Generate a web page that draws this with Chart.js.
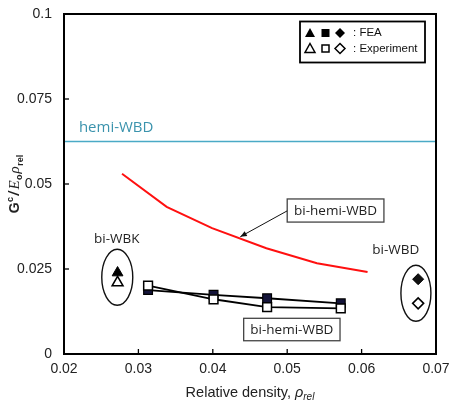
<!DOCTYPE html>
<html><head><meta charset="utf-8">
<script src="https://cdn.jsdelivr.net/npm/chart.js@4.4.0/dist/chart.umd.min.js"></script>
<style>html,body{margin:0;padding:0;background:#fff;} #wrap{width:451px;height:404px;}</style>
</head><body><div id="wrap"><canvas id="c" width="451" height="404"></canvas></div>
<script>
// ---- data ----
const xTickValues = [0.02, 0.03, 0.04, 0.05, 0.06, 0.07];
const xTickLabels = ["0.02", "0.03", "0.04", "0.05", "0.06", "0.07"];
const yTickValues = [0, 0.025, 0.05, 0.075, 0.1];
const yTickLabels = ["0", "0.025", "0.05", "0.075", "0.1"];

const hemiX = [0.02, 0.07];
const hemiY = [0.0625, 0.0625];

const redX = [0.0278, 0.0338, 0.0399, 0.0472, 0.0540, 0.0608];
const redY = [0.0530, 0.0433, 0.0370, 0.0311, 0.0267, 0.0241];

const biHemiX = [0.0313, 0.0401, 0.0473, 0.0572];
const biHemiFEA = [0.0188, 0.0174, 0.0164, 0.0149];
const biHemiExp = [0.0201, 0.0161, 0.0138, 0.0134];

const biWBKX = [0.0272];
const biWBKFEA = [0.0239];
const biWBKExp = [0.0210];

const biWBDX = [0.0676];
const biWBDFEA = [0.0220];
const biWBDExp = [0.0149];

const pts = (xs, ys) => xs.map((x, i) => ({x: x, y: ys[i]}));

const TEAL = '#4aaac6';
const TEAL_TEXT = '#3b93ad';
const font = 'Liberation Sans, Arial, sans-serif';
const cfont = '"Open Sans", sans-serif';

function txt(ctx, s, x, y, f, color, align, base) {
  ctx.font = f; ctx.fillStyle = color; ctx.textAlign = align || 'left'; ctx.textBaseline = base || 'middle';
  ctx.fillText(s, x, y);
}
function zeroPad(s) { s.paddingTop = 0; s.paddingBottom = 0; s.paddingLeft = 0; s.paddingRight = 0; }

const annot = {
  id: 'annot',
  afterDatasetsDraw(chart) {
    const ctx = chart.ctx, xs = chart.scales.x, ys = chart.scales.y;
    const X = v => xs.getPixelForValue(v), Y = v => ys.getPixelForValue(v);
    ctx.save();
    txt(ctx, 'hemi-WBD', X(0.0220), Y(0.0665), '15px ' + cfont, TEAL_TEXT, 'left');
    txt(ctx, 'bi-WBK', X(0.0271), Y(0.0338), '13.5px ' + cfont, '#222', 'center');
    txt(ctx, 'bi-WBD', X(0.0646), Y(0.0306), '13.5px ' + cfont, '#222', 'center');
    ctx.strokeStyle = '#111'; ctx.lineWidth = 1.4;
    ctx.beginPath(); ctx.ellipse(X(0.02716), Y(0.02256), 15.5, 28, 0, 0, Math.PI * 2); ctx.stroke();
    ctx.beginPath(); ctx.ellipse(X(0.0673), Y(0.01785), 15, 28, 0, 0, Math.PI * 2); ctx.stroke();
    function box(x0, x1, y0, y1, s) {
      const px0 = X(x0), px1 = X(x1), py0 = Y(y0), py1 = Y(y1);
      ctx.fillStyle = '#fff'; ctx.fillRect(px0, py0, px1 - px0, py1 - py0);
      ctx.strokeStyle = '#444'; ctx.lineWidth = 1.3;
      ctx.strokeRect(px0, py0, px1 - px0, py1 - py0);
      txt(ctx, s, (px0 + px1) / 2, (py0 + py1) / 2 + 0.5, '13.5px ' + cfont, '#222', 'center');
    }
    box(0.0500, 0.0630, 0.0456, 0.0388, 'bi-hemi-WBD');
    box(0.04415, 0.0571, 0.0105, 0.0039, 'bi-hemi-WBD');
    const ax0 = X(0.0500), ay0 = Y(0.0421), ax1 = X(0.0437), ay1 = Y(0.0345);
    ctx.strokeStyle = '#111'; ctx.lineWidth = 1;
    ctx.beginPath(); ctx.moveTo(ax0, ay0); ctx.lineTo(ax1, ay1); ctx.stroke();
    const ang = Math.atan2(ay1 - ay0, ax1 - ax0), L = 7;
    ctx.fillStyle = '#111';
    ctx.beginPath(); ctx.moveTo(ax1, ay1);
    ctx.lineTo(ax1 - L * Math.cos(ang - 0.4), ay1 - L * Math.sin(ang - 0.4));
    ctx.lineTo(ax1 - L * Math.cos(ang + 0.4), ay1 - L * Math.sin(ang + 0.4));
    ctx.closePath(); ctx.fill();
    ctx.restore();
  },
  afterDraw(chart) {
    const ctx = chart.ctx, xs = chart.scales.x, ys = chart.scales.y, a = chart.chartArea;
    ctx.save();
    ctx.strokeStyle = '#000'; ctx.lineWidth = 2;
    ctx.strokeRect(a.left, a.top, a.right - a.left, a.bottom - a.top);
    ctx.lineWidth = 1.3;
    xTickValues.forEach(v => { const p = xs.getPixelForValue(v); ctx.beginPath(); ctx.moveTo(p, a.bottom); ctx.lineTo(p, a.bottom - 5); ctx.stroke(); });
    yTickValues.forEach(v => { const p = ys.getPixelForValue(v); ctx.beginPath(); ctx.moveTo(a.left, p); ctx.lineTo(a.left + 5, p); ctx.stroke(); });
    // legend
    const bx0 = a.right - 136, by0 = a.top + 7.5, bw = 125, bh = 41;
    ctx.fillStyle = '#fff'; ctx.fillRect(bx0, by0, bw, bh);
    ctx.strokeStyle = '#000'; ctx.lineWidth = 1.8; ctx.strokeRect(bx0, by0, bw, bh);
    const r1 = by0 + 11.5, r2 = by0 + 27;
    const mx = [bx0 + 10, bx0 + 25.5, bx0 + 40];
    function tri(x, y, fill) {
      ctx.beginPath(); ctx.moveTo(x, y - 5); ctx.lineTo(x + 5, y + 4); ctx.lineTo(x - 5, y + 4); ctx.closePath();
      if (fill) { ctx.fillStyle = '#000'; ctx.fill(); } else { ctx.lineWidth = 1.5; ctx.strokeStyle = '#000'; ctx.stroke(); }
    }
    function sq(x, y, fill) {
      if (fill) { ctx.fillStyle = '#000'; ctx.fillRect(x - 4, y - 4, 8, 8); }
      else { ctx.lineWidth = 1.5; ctx.strokeStyle = '#000'; ctx.strokeRect(x - 3.5, y - 3.5, 7, 7); }
    }
    function dia(x, y, fill) {
      ctx.beginPath(); ctx.moveTo(x, y - 5); ctx.lineTo(x + 5, y); ctx.lineTo(x, y + 5); ctx.lineTo(x - 5, y); ctx.closePath();
      if (fill) { ctx.fillStyle = '#000'; ctx.fill(); } else { ctx.lineWidth = 1.5; ctx.strokeStyle = '#000'; ctx.stroke(); }
    }
    tri(mx[0], r1, true); sq(mx[1], r1, true); dia(mx[2], r1, true);
    tri(mx[0], r2, false); sq(mx[1], r2, false); dia(mx[2], r2, false);
    txt(ctx, ': FEA', bx0 + 53, r1, '11.5px ' + font, '#111', 'left');
    txt(ctx, ': Experiment', bx0 + 53, r2, '11.5px ' + font, '#111', 'left');

    // x axis title
    ctx.textBaseline = 'alphabetic'; ctx.textAlign = 'left'; ctx.fillStyle = '#222';
    const f1 = '14.5px ' + font, f2 = 'italic 14.5px ' + font, f3 = 'italic 10px ' + font;
    ctx.font = f1; const w1 = ctx.measureText('Relative density, ').width;
    ctx.font = f2; const w2 = ctx.measureText('ρ').width;
    ctx.font = f3; const w3 = ctx.measureText('rel').width;
    let sx = (a.left + a.right) / 2 - (w1 + w2 + w3) / 2, by = 397;
    ctx.font = f1; ctx.fillText('Relative density, ', sx, by); sx += w1;
    ctx.font = f2; ctx.fillText('ρ', sx, by); sx += w2;
    ctx.font = f3; ctx.fillText('rel', sx, by + 3);

    // y axis title (rotated)
    const parts = [
      {s: 'G', f: 'bold 14px ' + font, dy: 0, gap: 0.5},
      {s: 'c', f: 'bold 9px ' + font, dy: -6, gap: 1.5},
      {s: '/', f: 'bold italic 14px ' + font, dy: 0, gap: 2},
      {s: 'E', f: 'italic 15px "Liberation Serif", serif', dy: 0, gap: 0.5},
      {s: 'o', f: 'bold 9px ' + font, dy: 3, gap: 1},
      {s: 'ρ', f: 'italic 15px "Liberation Serif", serif', dy: 0, gap: 0.5},
      {s: 'rel', f: 'bold 9px ' + font, dy: 4, gap: 0}
    ];
    let tot = 0;
    parts.forEach(p => { ctx.font = p.f; p.w = ctx.measureText(p.s).width; tot += p.w + p.gap; });
    ctx.translate(19, 184); ctx.rotate(-Math.PI / 2);
    let px = -tot / 2;
    parts.forEach(p => { ctx.font = p.f; ctx.fillText(p.s, px, p.dy); px += p.w + p.gap; });
    ctx.restore();
  }
};

new Chart(document.getElementById('c'), {
  type: 'scatter',
  data: {
    datasets: [
      {data: pts(biWBKX, biWBKFEA), pointStyle: 'triangle', pointRadius: 6.2, backgroundColor: '#000', borderColor: '#000', borderWidth: 1, showLine: false},
      {data: pts(biWBKX, biWBKExp), pointStyle: 'triangle', pointRadius: 6.2, backgroundColor: '#fff', borderColor: '#000', borderWidth: 1.6, showLine: false},
      {data: pts(biWBDX, biWBDFEA), pointStyle: 'rectRot', pointRadius: 5.5, backgroundColor: '#111', borderColor: '#000', borderWidth: 1, showLine: false},
      {data: pts(biWBDX, biWBDExp), pointStyle: 'rectRot', pointRadius: 5.5, backgroundColor: '#fff', borderColor: '#000', borderWidth: 1.6, showLine: false},
      {data: pts(biHemiX, biHemiExp), pointStyle: 'rect', pointRadius: 6.2, backgroundColor: '#fff', borderColor: '#000', pointBorderWidth: 1.5, showLine: true, borderWidth: 1.8},
      {data: pts(biHemiX, biHemiFEA), pointStyle: 'rect', pointRadius: 6.2, backgroundColor: '#14143a', borderColor: '#000', pointBorderWidth: 1.2, showLine: true, borderWidth: 1.8},
      {data: pts(redX, redY), showLine: true, borderColor: '#ff1010', borderWidth: 2, pointRadius: 0},
      {data: pts(hemiX, hemiY), showLine: true, borderColor: TEAL, borderWidth: 1.5, pointRadius: 0}
    ]
  },
  options: {
    responsive: false, animation: false, devicePixelRatio: 1,
    layout: {padding: {top: 14, right: 15, left: 0, bottom: 0}},
    plugins: {legend: {display: false}, tooltip: {enabled: false}},
    elements: {line: {tension: 0}},
    scales: {
      x: {
        type: 'linear', min: 0.02, max: 0.07,
        grid: {display: false, drawTicks: false}, border: {display: false},
        afterBuildTicks: s => { s.ticks = xTickValues.map(v => ({value: v})); },
        afterFit: s => { s.height = 50; zeroPad(s); },
        ticks: {padding: 7, color: '#222', font: {family: font, size: 14}, maxRotation: 0, autoSkip: false,
          callback: (v) => { const i = xTickValues.findIndex(t => Math.abs(t - v) < 1e-9); return i >= 0 ? xTickLabels[i] : ''; }}
      },
      y: {
        type: 'linear', min: 0, max: 0.1,
        grid: {display: false, drawTicks: false}, border: {display: false},
        afterBuildTicks: s => { s.ticks = yTickValues.map(v => ({value: v})); },
        afterFit: s => { s.width = 64; zeroPad(s); },
        ticks: {padding: 12, color: '#222', font: {family: font, size: 14}, autoSkip: false,
          callback: (v) => { const i = yTickValues.findIndex(t => Math.abs(t - v) < 1e-9); return i >= 0 ? yTickLabels[i] : ''; }}
      }
    }
  },
  plugins: [annot]
});
</script>
</body></html>
